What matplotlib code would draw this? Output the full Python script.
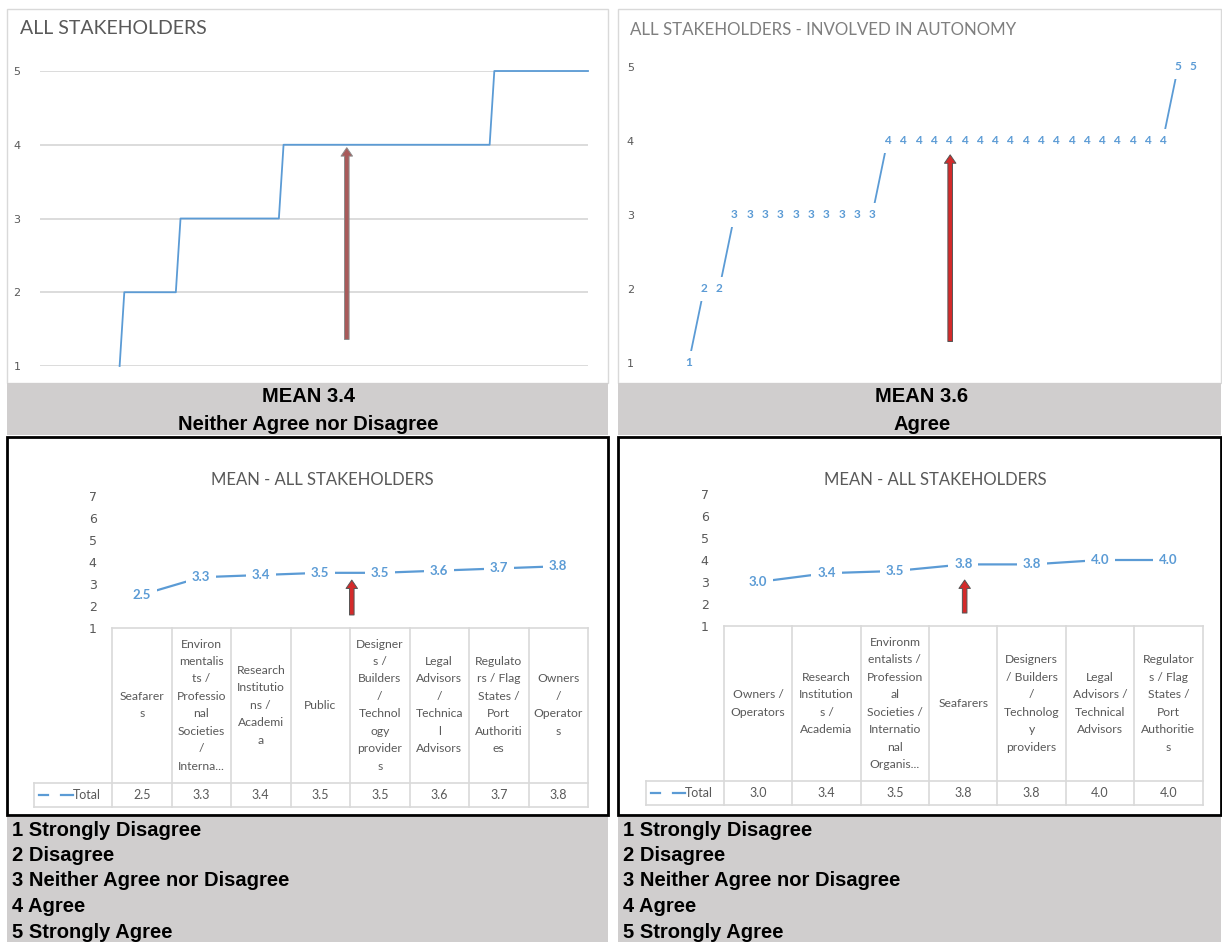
import numpy as np
import matplotlib.pyplot as plt
from matplotlib.patches import Rectangle

W, H = 1222, 942
BLUE = "#5b9bd5"
GREY_TXT = "#595959"
GRID = "#d9d9d9"
BAND = "#d0cece"
EXCEL_FONT = ["Lato", "DejaVu Sans"]
BAND_FONT = ["Liberation Sans", "DejaVu Sans"]

# Likert scale
levels = [1, 2, 3, 4, 5]
scale_labels = ["Strongly Disagree", "Disagree", "Neither Agree nor Disagree",
                "Agree", "Strongly Agree"]

# sorted responses, given as counts per level
all_blank = 17
all_counts = [1, 12, 22, 45, 21]
all_mean = 3.4
all_verdict = "Neither Agree nor Disagree"
auto_counts = [1, 2, 10, 19, 2]
auto_mean = 3.6
auto_verdict = "Agree"

# arrow markers (x position, base, tip)
all_arrow = (65.5, 1.36, 3.96)
auto_arrow = (17.1, 1.29, 3.81)

# group means
groups_all = [
    "Seafarer\ns",
    "Environ\nmentalis\nts /\nProfessio\nnal\nSocieties\n/\nInterna...",
    "Research\nInstitutio\nns /\nAcademi\na",
    "Public",
    "Designer\ns /\nBuilders\n/\nTechnol\nogy\nprovider\ns",
    "Legal\nAdvisors\n/\nTechnica\nl\nAdvisors",
    "Regulato\nrs / Flag\nStates /\nPort\nAuthoriti\nes",
    "Owners\n/\nOperator\ns",
]
means_all = [2.5, 3.3, 3.4, 3.5, 3.5, 3.6, 3.7, 3.8]
groups_auto = [
    "Owners /\nOperators",
    "Research\nInstitution\ns /\nAcademia",
    "Environm\nentalists /\nProfession\nal\nSocieties /\nInternatio\nnal\nOrganis...",
    "Seafarers",
    "Designers\n/ Builders\n/\nTechnolog\ny\nproviders",
    "Legal\nAdvisors /\nTechnical\nAdvisors",
    "Regulator\ns / Flag\nStates /\nPort\nAuthoritie\ns",
]
means_auto = [3.0, 3.4, 3.5, 3.8, 3.8, 4.0, 4.0]
means_all_arrow = (3.53, 1.58, 3.17)
means_auto_arrow = (3.02, 1.59, 3.09)


def px_axes(fig, x0, y0, x1, y1):
    ax = fig.add_axes([x0 / W, 1 - y1 / H, (x1 - x0) / W, (y1 - y0) / H])
    ax.set_facecolor("none")
    for s in ax.spines.values():
        s.set_visible(False)
    ax.set_xticks([])
    return ax


def arrow(ax, spec, fc, ec):
    x, base, tip = spec
    ax.annotate("", xy=(x, tip), xytext=(x, base), zorder=5,
                arrowprops=dict(arrowstyle="simple,head_width=0.75,head_length=0.55,tail_width=0.3",
                                fc=fc, ec=ec, lw=0.7, mutation_scale=11,
                                shrinkA=0, shrinkB=0))


fig = plt.figure(figsize=(W / 100, H / 100), dpi=100)
bg = fig.add_axes([0, 0, 1, 1])
bg.set_xlim(0, W)
bg.set_ylim(H, 0)
bg.axis("off")

# panel frames and grey bands
for x0, x1 in [(7, 608), (618, 1221)]:
    bg.add_patch(Rectangle((x0, 9), x1 - x0, 374, fc="white", ec=GRID, lw=1))
    bg.add_patch(Rectangle((x0, 383), x1 - x0, 52, fc=BAND, ec="none"))
    bg.add_patch(Rectangle((x0, 437), x1 - x0, 378, fc="white", ec="black", lw=2))
    bg.add_patch(Rectangle((x0, 817), x1 - x0, 130, fc=BAND, ec="none"))

for cx, mean, verdict in [(308, all_mean, all_verdict), (922, auto_mean, auto_verdict)]:
    bg.text(cx, 397, f"MEAN {mean:.1f}", ha="center", va="center", fontsize=14.5,
            fontweight="bold", family=BAND_FONT)
    bg.text(cx, 424, verdict, ha="center", va="center", fontsize=14.5,
            fontweight="bold", family=BAND_FONT)

for lx in (12, 623):
    for i, (lv, lab) in enumerate(zip(levels, scale_labels)):
        bg.text(lx, 830 + i * 25.5, f"{lv} {lab}", ha="left", va="center",
                fontsize=14.5, fontweight="bold", family=BAND_FONT)

# --- all stakeholders: sorted responses
bg.text(20, 28, "ALL STAKEHOLDERS", ha="left", va="center", fontsize=14,
        color=GREY_TXT, family=EXCEL_FONT)
vals = np.concatenate([np.full(all_blank, np.nan), np.repeat(levels, all_counts)])
ax = px_axes(fig, 40, 71, 588, 366)
ax.plot(np.arange(len(vals)), vals, color=BLUE, lw=1.3, clip_on=False)
ax.set_xlim(0, len(vals) - 1)
ax.set_ylim(1, 5)
ax.set_yticks(levels)
ax.grid(axis="y", color=GRID, lw=1.3)
ax.set_axisbelow(True)
ax.tick_params(axis="y", length=0, pad=14, labelsize=8, labelcolor=GREY_TXT)
arrow(ax, all_arrow, "#a85a5a", "#8c8c8c")

# --- involved in autonomy: sorted responses with value labels
bg.text(630, 30, "ALL STAKEHOLDERS - INVOLVED IN AUTONOMY", ha="left", va="center",
        fontsize=12.2, color="#7f7f7f", family=EXCEL_FONT)
vals = np.repeat(levels, auto_counts)
ax = px_axes(fig, 681, 66.7, 1201, 363)
xs = np.arange(len(vals))
ax.plot(xs, vals, color=BLUE, lw=1.3, clip_on=False, zorder=2)
for xi, v in zip(xs, vals):
    ax.text(xi, v, f"{v}", ha="center", va="center", fontsize=8.5, fontweight="bold",
            color=BLUE, family=EXCEL_FONT, zorder=3,
            bbox=dict(boxstyle="square,pad=0.55", fc="white", ec="none"))
ax.set_xlim(-0.5, len(vals) - 0.5)
ax.set_ylim(1, 5)
ax.set_yticks(levels)
ax.tick_params(axis="y", length=0, pad=34, labelsize=8, labelcolor=GREY_TXT)
arrow(ax, auto_arrow, "#d42a2a", "#555555")


def means_panel(rect, table, legend_left, title_x, groups, means, arr):
    x0, y0, x1, y1 = rect
    t_top, t_total, t_bot = table
    n = len(means)
    bg.text(title_x, 480, "MEAN - ALL STAKEHOLDERS", ha="center", va="center",
            fontsize=12, color=GREY_TXT, family=EXCEL_FONT)
    ax = px_axes(fig, x0, y0, x1, y1)
    xs = np.arange(n)
    ax.plot(xs, means, color=BLUE, lw=1.6, zorder=2)
    for xi, m in zip(xs, means):
        ax.text(xi, m, f"{m:.1f}", ha="center", va="center", fontsize=9.5,
                fontweight="bold", color=BLUE, family=EXCEL_FONT, zorder=3,
                bbox=dict(boxstyle="square,pad=0.45", fc="white", ec="none"))
    ax.set_xlim(-0.5, n - 0.5)
    ax.set_ylim(1, 7)
    ax.set_yticks(range(1, 8))
    ax.tick_params(axis="y", length=0, pad=11, labelsize=9, labelcolor=GREY_TXT)
    arrow(ax, arr, "#d42a2a", "#555555")

    # data table under the plot
    edges = np.linspace(x0, x1, n + 1)
    lk = dict(color=GRID, lw=1.2)
    bg.plot([x0, x1], [t_top, t_top], **lk)
    bg.plot([legend_left, x1], [t_total, t_total], **lk)
    bg.plot([legend_left, x1], [t_bot, t_bot], **lk)
    bg.plot([legend_left, legend_left], [t_total, t_bot], **lk)
    for e in edges:
        bg.plot([e, e], [t_top, t_bot], **lk)
    ymid = (t_top + t_total) / 2
    yrow = (t_total + t_bot) / 2
    for i, (g, m) in enumerate(zip(groups, means)):
        cx = (edges[i] + edges[i + 1]) / 2
        bg.text(cx, ymid, g, ha="center", va="center", multialignment="center",
                fontsize=8.7, linespacing=1.72, color=GREY_TXT, family=EXCEL_FONT)
        bg.text(cx, yrow, f"{m:.1f}", ha="center", va="center", fontsize=9,
                color=GREY_TXT, family=EXCEL_FONT)
    bg.plot([legend_left + 5, legend_left + 14], [yrow, yrow], color=BLUE, lw=1.6)
    bg.plot([legend_left + 27, legend_left + 39], [yrow, yrow], color=BLUE, lw=1.6)
    bg.text(legend_left + 39, yrow, "Total", ha="left", va="center", fontsize=9,
            color=GREY_TXT, family=EXCEL_FONT)


means_panel((112, 496, 588, 627.7), (627.7, 782.7, 806.7), 34, 322,
            groups_all, means_all, means_all_arrow)
means_panel((724, 494, 1202.6, 626), (626, 780.7, 805), 646, 935,
            groups_auto, means_auto, means_auto_arrow)

fig.savefig("out.png", dpi=100)
